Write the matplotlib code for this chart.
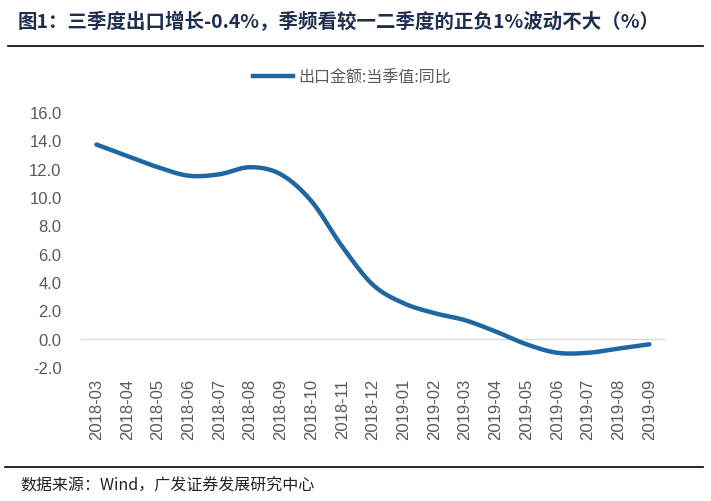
import numpy as np
import matplotlib.pyplot as plt
from matplotlib.lines import Line2D

plt.rcParams['font.family'] = ['Liberation Sans', 'Noto Sans CJK SC', 'DejaVu Sans']

months = ['2018-03', '2018-04', '2018-05', '2018-06', '2018-07', '2018-08', '2018-09',
          '2018-10', '2018-11', '2018-12', '2019-01', '2019-02', '2019-03', '2019-04',
          '2019-05', '2019-06', '2019-07', '2019-08', '2019-09']
export_yoy = [13.7, 12.9, 12.1, 11.5, 11.6, 12.1, 11.6, 9.7, 6.5, 3.8, 2.5, 1.8, 1.3,
              0.5, -0.4, -1.0, -1.0, -0.7, -0.4]
yticks = [-2.0, 0.0, 2.0, 4.0, 6.0, 8.0, 10.0, 12.0, 14.0, 16.0]

title = '图1：三季度出口增长-0.4%，季频看较一二季度的正负1%波动不大（%）'
legend_label = '出口金额:当季值:同比'
source = '数据来源：Wind，广发证券发展研究中心'

line_color = '#1F67A3'
gray = '#595959'
cjk = ['Noto Sans CJK SC', 'DejaVu Sans']


def smooth(xs, ys, n=20):
    # bezier smoothing like office "smoothed line"
    xs = np.asarray(xs, float)
    ys = np.asarray(ys, float)
    px = np.concatenate([[xs[0]], xs, [xs[-1]]])
    py = np.concatenate([[ys[0]], ys, [ys[-1]]])
    out_x, out_y = [], []
    t = np.linspace(0, 1, n)
    for i in range(1, len(px) - 2):
        p0 = np.array([px[i], py[i]])
        p3 = np.array([px[i + 1], py[i + 1]])
        p1 = p0 + (np.array([px[i + 1], py[i + 1]]) - np.array([px[i - 1], py[i - 1]])) / 6
        p2 = p3 - (np.array([px[i + 2], py[i + 2]]) - np.array([px[i], py[i]])) / 6
        b = ((1 - t) ** 3)[:, None] * p0 + (3 * (1 - t) ** 2 * t)[:, None] * p1 \
            + (3 * (1 - t) * t ** 2)[:, None] * p2 + (t ** 3)[:, None] * p3
        out_x.extend(b[:, 0])
        out_y.extend(b[:, 1])
    return out_x, out_y


fig = plt.figure(figsize=(7.11, 5.02), dpi=100)
ax = fig.add_axes([0.114, 0.267, 0.821, 0.508])

x = np.arange(len(months))
sx, sy = smooth(x, export_yoy)
ax.plot(sx, sy, color=line_color, lw=3.2, solid_capstyle='round')
ax.axhline(0, color='#D9D9D9', lw=1, zorder=0)

ax.set_xlim(-0.5, len(months) - 0.5)
ax.set_ylim(-2, 16)
ax.set_yticks(yticks)
ax.set_yticklabels([f'{v:.1f}' for v in yticks], fontsize=12, color=gray,
                   family='Liberation Sans')
ax.set_xticks(x)
ax.set_xticklabels(months, rotation=90, fontsize=12, color=gray, family='Liberation Sans')
ax.tick_params(length=0, pad=8)
ax.tick_params(axis='y', pad=14)
for s in ax.spines.values():
    s.set_visible(False)

handle = Line2D([], [], color=line_color, lw=3.2)
fig.legend([handle], [legend_label], loc='center', bbox_to_anchor=(0.495, 0.845),
           frameon=False, handlelength=2.5, handletextpad=0.3, labelcolor=gray,
           prop={'family': cjk, 'size': 11.5})

fig.text(0.025, 0.956, title, fontsize=14, fontweight='heavy', color='#1F2D4E',
         family=cjk, va='center')
fig.add_artist(Line2D([0.011, 0.989], [0.906, 0.906], color='black', lw=1.2))
fig.add_artist(Line2D([0.007, 0.989], [0.068, 0.068], color='black', lw=1.2))
fig.text(0.028, 0.032, source, fontsize=11.5, color='#222222', family=cjk, va='center')

fig.savefig('out.png', dpi=100)
